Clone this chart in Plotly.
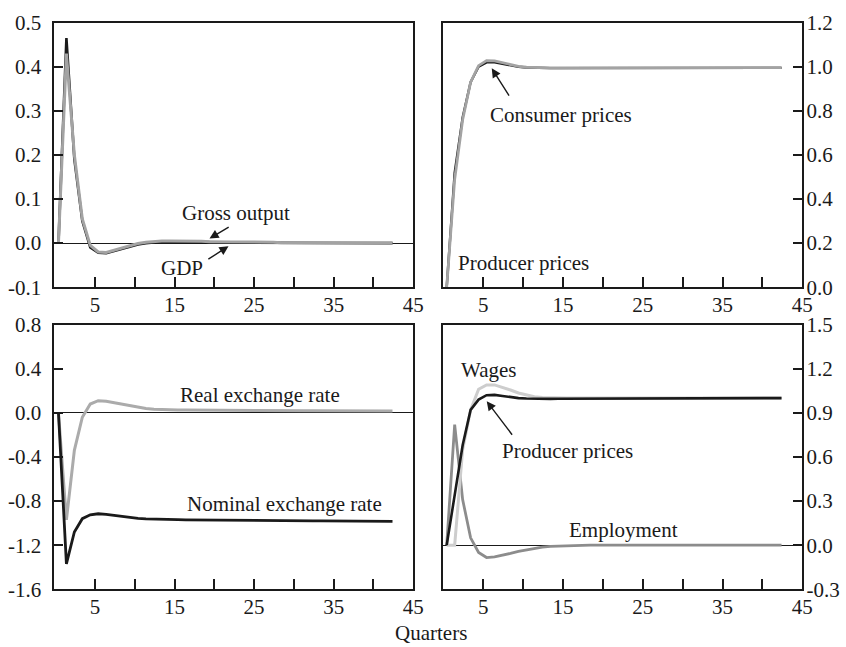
import plotly.graph_objects as go

# ---------------- data ----------------
quarters = list(range(43))

gdp = [0, 0.465, 0.19, 0.05, -0.01, -0.022, -0.023, -0.018, -0.012, -0.007, -0.003,
       0.0, 0.002, 0.003, 0.003, 0.003, 0.003, 0.003, 0.002, 0.002, 0.002, 0.002,
       0.002, 0.001, 0.001, 0.001, 0.001, 0.001, 0.001, 0.001, 0.0, 0.0, 0.0, 0.0,
       0.0, 0.0, 0.0, 0.0, 0.0, 0.0, 0.0, 0.0, 0.0]
gross_output = [0, 0.43, 0.2, 0.055, -0.005, -0.02, -0.021, -0.016, -0.01, -0.005, -0.001,
                0.002, 0.004, 0.005, 0.005, 0.005, 0.004, 0.004, 0.004, 0.003, 0.003, 0.003,
                0.003, 0.002, 0.002, 0.002, 0.002, 0.002, 0.001, 0.001, 0.001, 0.001, 0.001,
                0.001, 0.001, 0.001, 0.0, 0.0, 0.0, 0.0, 0.0, 0.0, 0.0]

consumer_prices = [0, 0.52, 0.77, 0.93, 1.0, 1.02, 1.02, 1.013, 1.006, 1.0, 0.997,
                   0.995, 0.994, 0.994, 0.994, 0.994, 0.994, 0.994, 0.994, 0.994, 0.995,
                   0.995, 0.995, 0.995, 0.995, 0.995, 0.995, 0.995, 0.995, 0.995, 0.995,
                   0.995, 0.995, 0.995, 0.995, 0.995, 0.995, 0.995, 0.995, 0.995, 0.995,
                   0.995, 0.995]
producer_prices_tr = [0, 0.49, 0.76, 0.93, 1.005, 1.028, 1.027, 1.018, 1.009, 1.002, 0.998,
                      0.996, 0.995, 0.995, 0.995, 0.995, 0.995, 0.995, 0.995, 0.995, 0.995,
                      0.996, 0.996, 0.996, 0.996, 0.996, 0.996, 0.996, 0.996, 0.996, 0.996,
                      0.996, 0.996, 0.996, 0.996, 0.996, 0.996, 0.996, 0.996, 0.996, 0.996,
                      0.996, 0.996]

real_exchange_rate = [0, -0.97, -0.34, -0.04, 0.08, 0.11, 0.105, 0.092, 0.077, 0.063, 0.05,
                      0.04, 0.033, 0.029, 0.027, 0.026, 0.025, 0.025, 0.024, 0.024, 0.023,
                      0.023, 0.022, 0.022, 0.021, 0.021, 0.02, 0.02, 0.02, 0.019, 0.019,
                      0.019, 0.018, 0.018, 0.018, 0.017, 0.017, 0.017, 0.017, 0.016, 0.016,
                      0.016, 0.016]
nominal_exchange_rate = [0, -1.37, -1.08, -0.96, -0.925, -0.915, -0.92, -0.93, -0.942, -0.952,
                         -0.958, -0.962, -0.965, -0.967, -0.968, -0.969, -0.97, -0.971, -0.972,
                         -0.972, -0.973, -0.974, -0.974, -0.975, -0.975, -0.976, -0.977, -0.977,
                         -0.978, -0.978, -0.979, -0.979, -0.98, -0.98, -0.981, -0.981, -0.982,
                         -0.982, -0.983, -0.983, -0.984, -0.984, -0.985]

wages = [0, 0, 0.65, 0.92, 1.06, 1.09, 1.09, 1.075, 1.055, 1.035, 1.02, 1.01, 1.004, 1.001,
         1.0, 1.0, 1.0, 1.0, 1.0, 1.0, 1.0, 1.0, 1.0, 1.0, 1.0, 1.0, 1.0, 1.0, 1.0, 1.0, 1.0,
         1.0, 1.0, 1.0, 1.0, 1.0, 1.0, 1.0, 1.0, 1.0, 1.0, 1.0, 1.0]
producer_prices_br = [0, 0.33, 0.68, 0.92, 0.99, 1.02, 1.022, 1.015, 1.007, 1.0, 0.997, 0.995,
                      0.995, 0.995, 0.996, 0.996, 0.997, 0.997, 0.998, 0.998, 0.998, 0.999,
                      0.999, 0.999, 0.999, 0.999, 1.0, 1.0, 1.0, 1.0, 1.0, 1.0, 1.0, 1.0, 1.0,
                      1.0, 1.0, 1.0, 1.0, 1.0, 1.0, 1.0, 1.0]
employment = [0, 0.82, 0.31, 0.05, -0.05, -0.084, -0.08, -0.07, -0.056, -0.042, -0.031, -0.021,
              -0.013, -0.008, -0.005, -0.003, -0.002, -0.001, 0, 0, 0, 0, 0, 0, 0, 0, 0, 0, 0,
              0, 0, 0, 0, 0, 0, 0, 0, 0, 0, 0, 0, 0, 0]

x_tick_vals = [5, 15, 25, 35, 45]
x_tick_text = ["5", "15", "25", "35", "45"]
y_ticks_tl = [-0.1, 0.0, 0.1, 0.2, 0.3, 0.4, 0.5]
y_ticks_tr = [0.0, 0.2, 0.4, 0.6, 0.8, 1.0, 1.2]
y_ticks_bl = [-1.6, -1.2, -0.8, -0.4, 0.0, 0.4, 0.8]
y_ticks_br = [-0.3, 0.0, 0.3, 0.6, 0.9, 1.2, 1.5]

# ---------------- style ----------------
FONT = "Liberation Serif"
FS = 21
INK = "#1a1a1a"
X_SHIFT = 0.4  # points drawn at the middle of each quarter slot
xs = [q + X_SHIFT for q in quarters]


def fmt(v):
    return "{:.1f}".format(v)


fig = go.Figure()


def line(y, color, width, xa, ya):
    fig.add_trace(go.Scatter(x=xs, y=y, mode="lines",
                             line=dict(color=color, width=width),
                             xaxis=xa, yaxis=ya, showlegend=False, hoverinfo="skip"))


# top-left
line(gdp, "#1a1a1a", 2.6, "x", "y")
line(gross_output, "#a3a3a3", 3.0, "x", "y")
# top-right
line(consumer_prices, "#1a1a1a", 2.4, "x2", "y2")
line(producer_prices_tr, "#a3a3a3", 2.8, "x2", "y2")
# bottom-left
line(real_exchange_rate, "#ababab", 3.0, "x3", "y3")
line(nominal_exchange_rate, "#1a1a1a", 2.8, "x3", "y3")
# bottom-right
line(employment, "#8c8c8c", 2.8, "x4", "y4")
line(wages, "#cdcdcd", 3.0, "x4", "y4")
line(producer_prices_br, "#1a1a1a", 2.6, "x4", "y4")

XL = [0.0644, 0.4884]
XR = [0.5233, 0.9483]
YT = [0.5561, 0.9649]
YB = [0.0892, 0.4983]


def xaxis(domain, anchor):
    return dict(domain=domain, anchor=anchor, range=[-0.1, 45], automargin=False,
                tickmode="array", tickvals=x_tick_vals, ticktext=x_tick_text,
                ticks="inside", ticklen=10, tickwidth=2, tickcolor=INK,
                minor=dict(tickmode="array", tickvals=[10, 20, 30, 40], ticks="inside",
                           ticklen=10, tickwidth=2, tickcolor=INK),
                showline=True, linecolor=INK, linewidth=2, mirror=True,
                showgrid=False, zeroline=False, ticklabelstandoff=-2,
                tickfont=dict(family=FONT, size=FS, color=INK))


def yaxis(domain, anchor, rng, ticks, side):
    return dict(domain=domain, anchor=anchor, range=rng, side=side, automargin=False,
                tickmode="array", tickvals=ticks, ticktext=[fmt(v) for v in ticks],
                ticks="inside", ticklen=9, tickwidth=2, tickcolor=INK,
                showline=True, linecolor=INK, linewidth=2, mirror=True,
                showgrid=False, zeroline=True, zerolinecolor=INK, zerolinewidth=1.2,
                ticklabelstandoff=7 if side == "left" else -2,
                tickfont=dict(family=FONT, size=FS, color=INK))


annotations = []


def text(xref, yref, x, y, s):
    annotations.append(dict(xref=xref, yref=yref, x=x, y=y, text=s, showarrow=False,
                            xanchor="center", yanchor="middle",
                            font=dict(family=FONT, size=FS, color=INK)))


def arrow(xref, yref, hx, hy, tx, ty):
    annotations.append(dict(xref=xref, yref=yref, x=hx, y=hy, axref=xref, ayref=yref,
                            ax=tx, ay=ty, text="", showarrow=True, arrowhead=2,
                            arrowsize=1.3, arrowwidth=1.4, arrowcolor=INK, standoff=0))


text("x", "y", 22.72, 0.0673, "Gross output")
arrow("x", "y", 19.39, 0.0105, 21.99, 0.0385)
text("x", "y", 15.87, -0.0575, "GDP")
arrow("x", "y", 21.78, -0.0069, 19.06, -0.0387)

text("x2", "y2", 14.76, 0.781, "Consumer prices")
arrow("x2", "y2", 6.05, 0.993, 8.34, 0.862)
text("x2", "y2", 10.07, 0.109, "Producer prices")

text("x3", "y3", 25.74, 0.158, "Real exchange rate")
text("x3", "y3", 28.85, -0.824, "Nominal exchange rate")

text("x4", "y4", 5.62, 1.194, "Wages")
text("x4", "y4", 15.55, 0.639, "Producer prices")
arrow("x4", "y4", 5.42, 0.979, 8.75, 0.741)
text("x4", "y4", 22.6, 0.101, "Employment")

text("paper", "paper", 0.509, 0.0216, "Quarters")

fig.update_layout(
    width=846, height=647, autosize=False,
    margin=dict(l=0, r=0, t=0, b=0, pad=0, autoexpand=False),
    paper_bgcolor="white", plot_bgcolor="white",
    font=dict(family=FONT, size=FS, color=INK),
    xaxis=xaxis(XL, "y"), yaxis=yaxis(YT, "x", [-0.1, 0.5], y_ticks_tl, "left"),
    xaxis2=xaxis(XR, "y2"), yaxis2=yaxis(YT, "x2", [0, 1.2], y_ticks_tr, "right"),
    xaxis3=xaxis(XL, "y3"), yaxis3=yaxis(YB, "x3", [-1.6, 0.8], y_ticks_bl, "left"),
    xaxis4=xaxis(XR, "y4"), yaxis4=yaxis(YB, "x4", [-0.3, 1.5], y_ticks_br, "right"),
    annotations=annotations,
    showlegend=False,
)

fig.write_html(
    "out.html",
    config={"displayModeBar": False},
    post_script="document.body.style.margin='0';document.body.style.padding='0';"
                "document.body.style.overflow='hidden';",
)
